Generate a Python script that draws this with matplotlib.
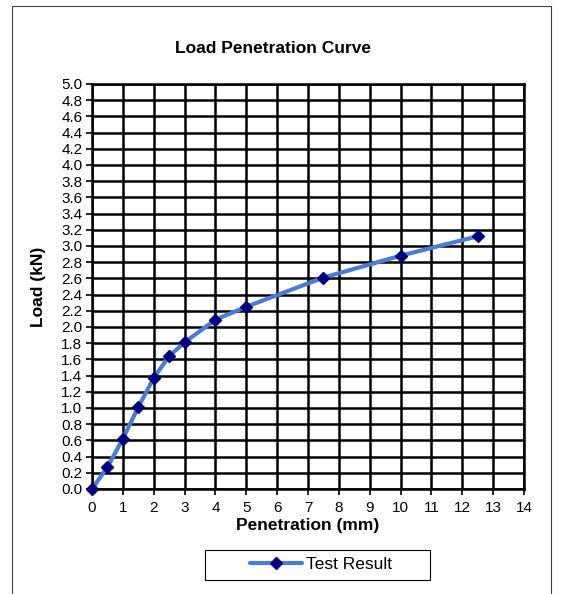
import matplotlib
matplotlib.use("Agg")
import matplotlib.pyplot as plt
from matplotlib.patches import Rectangle

plt.rcParams['font.family'] = ['Liberation Sans', 'DejaVu Sans']

# data
penetration = [0, 0.5, 1.0, 1.5, 2.0, 2.5, 3.0, 4.0, 5.0, 7.5, 10.0, 12.5]
load = [0.0, 0.27, 0.62, 1.01, 1.37, 1.64, 1.81, 2.09, 2.25, 2.61, 2.88, 3.12]
x_ticks = list(range(0, 15))
y_ticks = [i / 5 for i in range(0, 26)]

fig = plt.figure(figsize=(5.62, 5.94), dpi=100)
# chart area border
fig.patches.append(Rectangle((0.021, -0.05), 0.959, 1.04, transform=fig.transFigure,
                             fill=False, edgecolor='#404040', linewidth=0.8))

ax = fig.add_axes([0.1637, 0.1768, 0.7687, 0.6818])
ax.plot(penetration, load, color='#4a7dd1', linewidth=3, marker='D', markersize=6.5,
        markerfacecolor='#00007f', markeredgecolor='#00007f', label='Test Result',
        solid_joinstyle='round', solid_capstyle='round', clip_on=False, zorder=5)

ax.set_xlim(0, 14)
ax.set_ylim(0, 5.0)
ax.set_xticks(x_ticks)
ax.set_yticks(y_ticks)
ax.set_yticklabels(['%.1f' % v for v in y_ticks])
ax.tick_params(direction='out', length=4, width=1.2, labelsize=11)
ax.tick_params(axis='x', pad=5)
ax.tick_params(axis='y', pad=3)
ax.grid(True, color='black', linewidth=1.8)
for s in ax.spines.values():
    s.set_linewidth(1.8)

ax.set_xlabel('Penetration (mm)', fontsize=12.5, fontweight='bold', labelpad=2)
ax.set_ylabel('Load (kN)', fontsize=12.5, fontweight='bold', labelpad=11)
fig.text(0.486, 0.918, 'Load Penetration Curve', ha='center', va='center',
         fontsize=12.5, fontweight='bold')

# legend box like Excel: wide frame, entry centred
fig.patches.append(Rectangle((205 / 562, 1 - 580 / 594), 225 / 562, 30 / 594,
                             transform=fig.transFigure, fill=False,
                             edgecolor='black', linewidth=0.8))
fig.legend(loc='center', bbox_to_anchor=(0.571, 0.049), frameon=False,
           fontsize=12.5, handlelength=3.0, handletextpad=0.2)

fig.savefig('out.png', dpi=100)
